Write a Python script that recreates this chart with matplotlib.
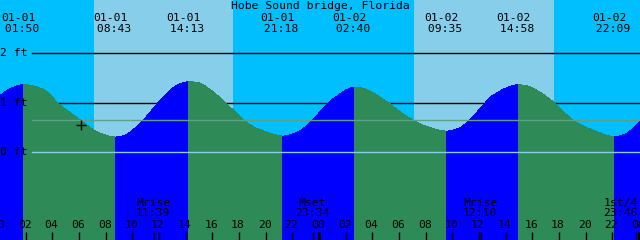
import matplotlib
matplotlib.use('Agg')
import matplotlib.pyplot as plt
import matplotlib.transforms as mtransforms
from matplotlib.path import Path
from matplotlib.patches import PathPatch
import numpy as np

# Station and chart window, hours counted from 01-01 00:00
title = 'Hobe Sound bridge, Florida'
x_start, x_end = 0.08, 48.08
y_bottom, y_top = -1.76, 3.065

# Water level (hours, feet)
curve_hours = np.array([0.0, 0.83, 1.83, 2.56, 3.61, 4.43, 5.33, 5.86, 7.06, 7.58,
                        8.72, 9.61, 10.58, 11.18, 11.84, 12.08, 13.06, 14.22, 15.08, 16.06,
                        17.03, 18.38, 19.06, 20.11, 21.30, 22.58, 23.45, 24.08, 24.46, 25.06,
                        26.67, 27.61, 29.11, 30.08, 31.06, 32.11, 33.58, 34.58, 35.33, 36.08,
                        37.06, 38.97, 40.06, 41.56, 43.06, 44.56, 46.15, 47.11, 48.10])
curve_feet = np.array([1.13, 1.28, 1.36, 1.34, 1.22, 0.99, 0.80, 0.70, 0.46, 0.39,
                       0.31, 0.37, 0.58, 0.76, 0.97, 1.04, 1.30, 1.42, 1.39, 1.22,
                       0.99, 0.65, 0.52, 0.41, 0.33, 0.44, 0.63, 0.82, 0.93, 1.08,
                       1.31, 1.26, 1.02, 0.82, 0.65, 0.52, 0.43, 0.50, 0.66, 0.88,
                       1.15, 1.36, 1.29, 1.02, 0.65, 0.45, 0.32, 0.39, 0.62])

# High / low tides
tide_hours = [1.83, 8.72, 14.22, 21.30, 26.67, 33.58, 38.97, 46.15]
tide_kind = ['high', 'low', 'high', 'low', 'high', 'low', 'high', 'low']
tide_dates = ['01-01', '01-01', '01-01', '01-01', '01-02', '01-02', '01-02', '01-02']
tide_times = ['01:50', '08:43', '14:13', '21:18', '02:40', '09:35', '14:58', '22:09']

# Daylight spans
sun_rise = [7.13, 31.13]
sun_set = [17.56, 41.63]

# Moon events
moon_hours = [11.65, 23.57, 36.17, 47.77]
moon_names = ['Mrise', 'Mset', 'Mrise', '1st/4']
moon_times = ['11:39', '23:34', '12:10', '23:46']

level_lines = [2, 1, 0]
mean_level = 0.65
now_hour, now_feet = 6.16, 0.56
hour_ticks = list(range(0, 49, 2))
midnights = [24, 48]

# Colours
night = '#00BFFF'
day = '#87CEEB'
flood = '#0000FF'
ebb = '#2E8B57'
msl = '#5FA08A'
datum = '#87CEEB'

W, H = 640, 240
font = dict(family='DejaVu Sans Mono', fontsize=8.2, color='black')

def fy(py):
  # pixel row from the top -> axes fraction
  return 1 - py / H

def slopes(x, y):
  # tangents for a smooth path through the points, flat at high/low water
  m = np.zeros(len(x))
  for i in range(len(x)):
    if np.any(np.isclose(x[i], tide_hours)):
      m[i] = 0.0
    elif i == 0:
      m[i] = (y[1] - y[0]) / (x[1] - x[0])
    elif i == len(x) - 1:
      m[i] = (y[-1] - y[-2]) / (x[-1] - x[-2])
    else:
      m[i] = (y[i + 1] - y[i - 1]) / (x[i + 1] - x[i - 1])
  return m

fig = plt.figure(figsize=(6.4, 2.4), dpi=100, facecolor=night)
ax = fig.add_axes([0, 0, 1, 1])
ax.set_xlim(x_start, x_end)
ax.set_ylim(y_bottom, y_top)
ax.axis('off')
trans = mtransforms.blended_transform_factory(ax.transData, ax.transAxes)

# Day / night sky
for r, s in zip(sun_rise, sun_set):
  ax.axvspan(r, s, color=day, lw=0, zorder=0)

# Reference levels: 2 ft and 1 ft lie behind the water, 0 ft on top
for lvl in level_lines:
  col = 'black' if lvl > 0 else datum
  z = 1 if lvl > 0 else 3
  ax.axhline(lvl, xmin=32 / W, xmax=1, color=col, lw=1.0, zorder=z)
  ax.text(0.5 / W, lvl, f'{lvl} ft', ha='left', va='center',
          transform=mtransforms.blended_transform_factory(ax.transAxes, ax.transData),
          zorder=4, **font)
ax.axhline(mean_level, xmin=32 / W, xmax=1, color=msl, lw=1.0, zorder=3)

# Water, blue while rising and green while falling
tang = slopes(curve_hours, curve_feet)
bounds = [curve_hours[0]] + tide_hours + [curve_hours[-1]]
for i in range(len(bounds) - 1):
  a, b = bounds[i], bounds[i + 1]
  idx = np.where((curve_hours >= a - 1e-9) & (curve_hours <= b + 1e-9))[0]
  if i < len(tide_kind):
    rising = tide_kind[i] == 'high'
  else:
    rising = tide_kind[-1] == 'low'
  verts = [(curve_hours[idx[0]], y_bottom), (curve_hours[idx[0]], curve_feet[idx[0]])]
  codes = [Path.MOVETO, Path.LINETO]
  for j0, j1 in zip(idx[:-1], idx[1:]):
    x0, y0, x1, y1 = curve_hours[j0], curve_feet[j0], curve_hours[j1], curve_feet[j1]
    d = (x1 - x0) / 3
    verts += [(x0 + d, y0 + d * tang[j0]), (x1 - d, y1 - d * tang[j1]), (x1, y1)]
    codes += [Path.CURVE4] * 3
  verts += [(curve_hours[idx[-1]], y_bottom), (curve_hours[idx[0]], y_bottom)]
  codes += [Path.LINETO, Path.CLOSEPOLY]
  ax.add_patch(PathPatch(Path(verts, codes), facecolor=flood if rising else ebb,
                         lw=0, antialiased=False, zorder=2))

# Current time marker
ax.plot(now_hour, now_feet, marker='+', color='black', ms=7, mew=1, zorder=5)

# Title
ax.text(0.5, fy(6), title, ha='center', va='center', transform=ax.transAxes, zorder=5, **font)

# Tide times along the top
for h, d, t in zip(tide_hours, tide_dates, tide_times):
  ax.annotate(d, xy=(h, fy(18)), xycoords=trans, xytext=(-3.6, 0),
              textcoords='offset points', ha='center', va='center', zorder=5, **font)
  ax.annotate(' ' + t, xy=(h, fy(29)), xycoords=trans, xytext=(-3.6, 0),
              textcoords='offset points', ha='center', va='center', zorder=5, **font)

# Hour ticks and labels
for h in hour_ticks:
  lw = 2.2 if h in midnights else 1.0
  ax.vlines(h, 0, 8 / H, transform=trans, color='black', lw=lw, zorder=4)
  ax.annotate(f'{h % 24:02d}', xy=(h, fy(225)), xycoords=trans, xytext=(-0.7, 0),
              textcoords='offset points', ha='center', va='center', zorder=4, **font)

# Moon events
for h, n, t in zip(moon_hours, moon_names, moon_times):
  ax.vlines(h, 0, 8 / H, transform=trans, color='black', lw=1.0, zorder=4)
  if h > x_end - 1.5:
    ax.text(638 / W, fy(203), n, ha='right', va='center', transform=ax.transAxes, zorder=4, **font)
    ax.text(638 / W, fy(213), t, ha='right', va='center', transform=ax.transAxes, zorder=4, **font)
  else:
    ax.annotate(n, xy=(h, fy(203)), xycoords=trans, xytext=(-0.7, 0),
                textcoords='offset points', ha='center', va='center', zorder=4, **font)
    ax.annotate(t, xy=(h, fy(213)), xycoords=trans, xytext=(-0.7, 0),
                textcoords='offset points', ha='center', va='center', zorder=4, **font)

fig.savefig('out.png', dpi=100, facecolor=fig.get_facecolor())
